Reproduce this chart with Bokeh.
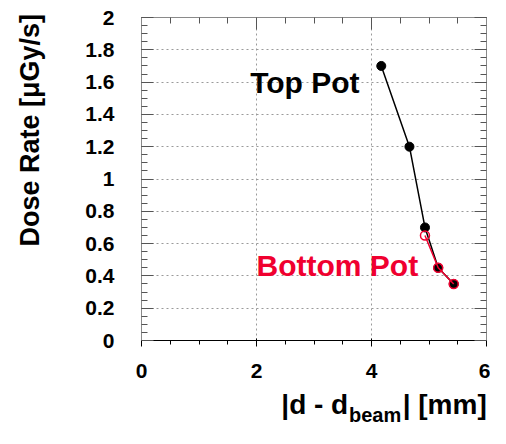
from bokeh.embed import file_html
from bokeh.models import FixedTicker, Label, LinearAxis, PrintfTickFormatter, Range1d
from bokeh.plotting import figure
from bokeh.resources import INLINE

# Data
top_dist = [4.17, 4.66, 4.93, 5.16, 5.43]
top_dose = [1.70, 1.20, 0.70, 0.45, 0.35]
bottom_dist = [4.93, 5.16, 5.43]
bottom_dose = [0.65, 0.45, 0.35]

x_ticks = [0, 2, 4, 6]
x_minor = [0.5, 1, 1.5, 2.5, 3, 3.5, 4.5, 5, 5.5]
y_ticks = [0, 0.2, 0.4, 0.6, 0.8, 1, 1.2, 1.4, 1.6, 1.8, 2]
y_minor = [round(0.05 * i, 2) for i in range(41)]

FONT = "Liberation Sans"
RED = "#f0002f"
FRAME = "#8a8a8a"
TICK = "#555555"
NB = "\u00a0"  # padding to shift centred axis titles

p = figure(
    width=490,
    height=428,
    x_range=Range1d(0, 6),
    y_range=Range1d(0, 2),
    output_backend="svg",
    toolbar_location=None,
    min_border_left=141,
    min_border_right=4,
    min_border_top=17,
    min_border_bottom=83,
)

xt = FixedTicker(ticks=x_ticks, minor_ticks=x_minor)
yt = FixedTicker(ticks=y_ticks, minor_ticks=y_minor)

# lines and markers
p.line(top_dist, top_dose, line_color="black", line_width=1.5)
p.scatter(top_dist, top_dose, size=9, fill_color="black", line_color="black")
p.line(bottom_dist, bottom_dose, line_color=RED, line_width=1.5)
p.scatter(bottom_dist, bottom_dose, size=9, fill_color=None, line_color=RED, line_width=1.5)

# text annotations
p.add_layout(Label(x=1.89, y=1.596, text="Top Pot", text_font=FONT, text_font_style="bold",
                   text_font_size="30px", text_color="black", text_baseline="alphabetic"))
p.add_layout(Label(x=2.00, y=0.464, text="Bottom Pot", text_font=FONT, text_font_style="bold",
                   text_font_size="30px", text_color=RED, text_baseline="alphabetic"))

# axes
for ax, tk in ((p.xaxis[0], xt), (p.yaxis[0], yt)):
    ax.ticker = tk
    ax.formatter = PrintfTickFormatter(format="%g")
    ax.major_label_text_font = FONT
    ax.major_label_text_font_style = "bold"
    ax.major_label_text_font_size = "21px"
    ax.major_label_text_color = "black"
    ax.axis_label_text_font = FONT
    ax.axis_label_text_font_style = "bold"
    ax.axis_label_text_color = "black"
p.xaxis.major_label_standoff = 17
p.yaxis.major_label_standoff = 27

# y title, pushed towards the top of the frame
p.yaxis.axis_label = NB * 13 + "Dose Rate [\u03bcGy/s]"
p.yaxis.axis_label_text_font_size = "27px"
p.yaxis.axis_label_standoff = 37

# x title: main part on the axis, subscript on a bare axis pulled up under it
p.xaxis.axis_label = NB * 18 + "|d - d" + NB * 7 + "| [mm]"
p.xaxis.axis_label_text_font_size = "28px"
p.xaxis.axis_label_standoff = 8

sub_axis = LinearAxis(ticker=FixedTicker(ticks=[]), axis_label=NB * 22 + "beam",
                      axis_label_text_font=FONT, axis_label_text_font_style="bold",
                      axis_label_text_font_size="20px", axis_label_text_color="black",
                      axis_label_standoff=-19, axis_line_color=None, major_tick_line_color=None,
                      minor_tick_line_color=None, major_label_text_color=None,
                      major_label_text_font_size="1px", major_label_standoff=0)
p.add_layout(sub_axis, "below")

p.add_layout(LinearAxis(ticker=xt), "above")
p.add_layout(LinearAxis(ticker=yt), "right")
for ax in (p.xaxis[0], p.yaxis[0], p.above[-1], p.right[0]):
    ax.axis_line_color = FRAME
    ax.major_tick_line_color = TICK
    ax.minor_tick_line_color = TICK
    ax.major_tick_in = 12
    ax.major_tick_out = 0
    ax.minor_tick_in = 6
    ax.minor_tick_out = 0
for ax in (p.above[-1], p.right[0]):
    ax.major_label_text_font_size = "1px"
    ax.major_label_text_color = None
    ax.major_label_standoff = 0

p.xgrid.ticker = xt
p.ygrid.ticker = yt
p.grid.grid_line_color = "#9a9a9a"
p.grid.grid_line_dash = "2 3"
p.grid.grid_line_width = 1
p.outline_line_color = FRAME
p.background_fill_color = "white"
p.border_fill_color = "white"

open("out.html", "w").write(file_html(p, INLINE))
